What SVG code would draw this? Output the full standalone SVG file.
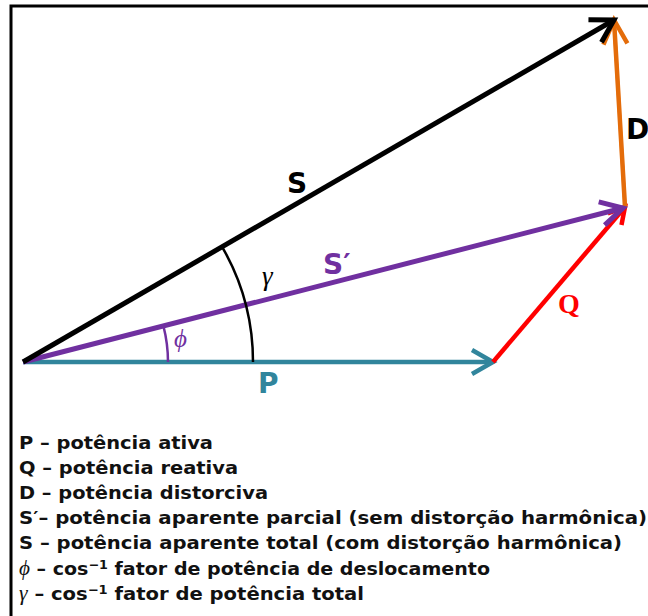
<svg xmlns="http://www.w3.org/2000/svg" width="648" height="616" viewBox="0 0 648 616">
<style>
.lbl{font-family:"DejaVu Sans","Liberation Sans",sans-serif;font-weight:bold;font-size:28px}
.leg{font-family:"DejaVu Sans","Liberation Sans",sans-serif;font-weight:bold;font-size:18px;fill:#111}
.gr{font-family:"Liberation Serif","DejaVu Serif",serif;font-style:italic;font-weight:normal}
.sup{font-size:12px}
.vec{fill:none;stroke-linecap:butt}
</style>
<defs>
<marker id="mBlack" markerUnits="userSpaceOnUse" orient="auto" refX="0" refY="0" markerWidth="40" markerHeight="40" viewBox="-30 -20 40 40" overflow="visible"><path d="M-22,-13 L0,0 L-22,13" fill="none" stroke="#000" stroke-width="5"/></marker>
<marker id="mPurple" markerUnits="userSpaceOnUse" orient="auto" refX="0" refY="0" markerWidth="40" markerHeight="40" viewBox="-30 -20 40 40" overflow="visible"><path d="M-22,-12 L0,0 L-22,12" fill="none" stroke="#7030A0" stroke-width="5"/></marker>
<marker id="mTeal" markerUnits="userSpaceOnUse" orient="auto" refX="0" refY="0" markerWidth="40" markerHeight="40" viewBox="-30 -20 40 40" overflow="visible"><path d="M-21,-12 L0,0 L-21,12" fill="none" stroke="#31859C" stroke-width="4.5"/></marker>
<marker id="mRed" markerUnits="userSpaceOnUse" orient="auto" refX="0" refY="0" markerWidth="40" markerHeight="40" viewBox="-30 -20 40 40" overflow="visible"><path d="M-16,-9 L0,0 L-16,9" fill="none" stroke="#FF0000" stroke-width="4.5"/></marker>
<marker id="mOrange" markerUnits="userSpaceOnUse" orient="auto" refX="0" refY="0" markerWidth="40" markerHeight="40" viewBox="-30 -20 40 40" overflow="visible"><path d="M-24,-12 L0,0 L-24,12" fill="none" stroke="#E46C0A" stroke-width="4.5"/></marker>
</defs>
<rect x="0" y="0" width="648" height="616" fill="#fff"/>
<rect x="11" y="6" width="700" height="700" fill="none" stroke="#000" stroke-width="3"/>

<g id="connectors">
<path id="vecP" class="vec" d="M23,362 L493,362" stroke="#31859C" stroke-width="4.5" marker-end="url(#mTeal)"/>
<path id="vecQ" class="vec" d="M493,362 L625,207" stroke="#FF0000" stroke-width="4.5" marker-end="url(#mRed)"/>
<path id="vecD" class="vec" d="M625,207 L614,20" stroke="#E46C0A" stroke-width="4.5" marker-end="url(#mOrange)"/>
<path id="vecS1" class="vec" d="M23,362 L623,208" stroke="#7030A0" stroke-width="5" marker-end="url(#mPurple)"/>
<path id="vecS" class="vec" d="M23,362 L614,20" stroke="#000" stroke-width="5" marker-end="url(#mBlack)"/>
<path id="arcGamma" d="M253,362 A230,230 0 0 0 222.1,246.8" fill="none" stroke="#000" stroke-width="2.5"/>
<path id="arcPhi" d="M168,362 A145,145 0 0 0 163.4,326" fill="none" stroke="#7030A0" stroke-width="2.5"/>
</g>

<g id="labels">
<text class="lbl" x="287" y="193" fill="#000">S</text>
<text class="lbl" x="323" y="274" fill="#7030A0">S′</text>
<text class="lbl" x="258" y="393" fill="#31859C">P</text>
<text class="lbl" x="626" y="139" font-size="26" fill="#000">D</text>
<text x="558" y="313" font-family="Liberation Serif,'DejaVu Serif',serif" font-weight="bold" font-size="28" fill="#FF0000">Q</text>
<text class="gr" x="262" y="285" font-size="27" fill="#000">γ</text>
<text class="gr" x="174" y="347" font-size="25" fill="#7030A0">ϕ</text>
</g>

<g id="legend">
<text class="leg" x="19" y="449" textLength="194" lengthAdjust="spacingAndGlyphs">P – potência ativa</text>
<text class="leg" x="19" y="474" textLength="219" lengthAdjust="spacingAndGlyphs">Q – potência reativa</text>
<text class="leg" x="19" y="499" textLength="249" lengthAdjust="spacingAndGlyphs">D – potência distorciva</text>
<text class="leg" x="19" y="524" textLength="628" lengthAdjust="spacingAndGlyphs">S′– potência  aparente parcial (sem distorção harmônica)</text>
<text class="leg" x="19" y="549" textLength="603" lengthAdjust="spacingAndGlyphs">S – potência aparente total (com distorção harmônica)</text>
<text class="leg" x="19" y="575" textLength="471" lengthAdjust="spacingAndGlyphs"><tspan class="gr" font-size="20">ϕ</tspan> – cos<tspan class="sup" dy="-6">−1</tspan><tspan dy="6"> fator de potência de deslocamento</tspan></text>
<text class="leg" x="19" y="600" textLength="345" lengthAdjust="spacingAndGlyphs"><tspan class="gr" font-size="20">γ</tspan> – cos<tspan class="sup" dy="-6">−1</tspan><tspan dy="6"> fator de potência total</tspan></text>
</g>
</svg>
